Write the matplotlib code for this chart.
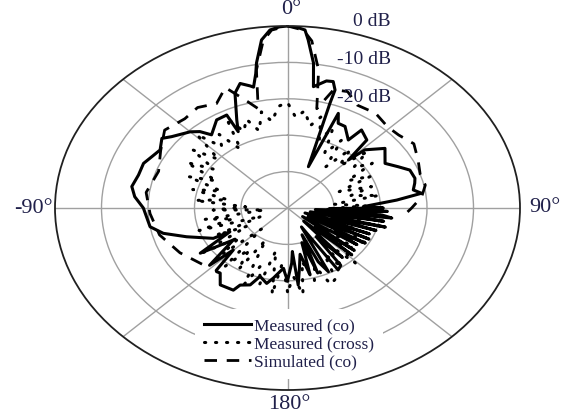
import numpy as np
import matplotlib
matplotlib.use("Agg")
import matplotlib.pyplot as plt

plt.rcParams['font.family'] = ['Liberation Serif', 'DejaVu Serif']

# ---------------- data (angle in degrees, level in dB) ----------------
co_ang = [-180, -176.9, -171, -167.8, -162.6, -159.2, -154.3, -152.7, -145.6, -141,
          -138.9, -138.2, -134.7, -133.2, -127, -123.5, -117.8, -117.6, -110, -104.6,
          -99.9, -90, -84.6, -80, -74.2, -68.4, -64.2, -59.8, -54.7, -51.8,
          -45, -41.9, -39.1, -32.2, -27.1, -26.8, -24.3, -19.7, -16.6, -13.5,
          -12.4, -10.5, -9.5, -6.9, -4.4, -2, 0, 2, 4.4, 5.5,
          8, 9.5, 13.5, 15.8, 17.5, 17.6, 21.6, 22.8, 25.1, 28.9,
          35, 36.6, 42.4, 44.8, 46.2, 52, 59.7, 64.6, 68.4, 73.4,
          76, 79.6, 82, 84.7, 88.7, 90, 91, 92.5, 94, 95.4,
          97, 98, 100, 102, 104, 106, 108, 110, 112, 114,
          116, 118, 120, 122, 124, 126, 129, 131, 133, 136,
          139, 142, 144, 147.4, 150, 153.3, 155.9, 157, 160, 162,
          165.2, 168, 171, 173.8, 175, 176.6, 180]
co_db = [-30, -33.4, -30.5, -28.8, -30.3, -27.4, -26.5, -24.6, -24.4, -27,
         -26.8, -27, -33.6, -27, -35.4, -27.5, -36, -32, -26.9, -22.4,
         -20, -19, -17, -16, -16.7, -16.7, -17.6, -18.3, -16.9, -18.3,
         -20.4, -21.8, -24.1, -21.4, -21.3, -26.5, -23.5, -16.5, -14.3, -15.5,
         -16, -12.5, -9.6, -3.5, -0.95, -0.2, 0, -0.2, -0.95, -3.6,
         -9.8, -16.2, -14.1, -13.9, -16, -19.8, -37.8, -21.8, -24.3, -24.4,
         -27.2, -23.3, -24.7, -31.4, -26.9, -23.4, -25.7, -23.6, -21.7, -21.4,
         -21.8, -22.5, -20.9, -26.4, -33.7, -29.4, -41, -28.5, -44, -29.6,
         -27.4, -43, -29, -45, -28.3, -40, -30, -46, -31, -42,
         -30.5, -45, -30.7, -38, -32, -46, -31.5, -42, -31.1, -45,
         -32, -40, -30.5, -29.8, -44, -30.4, -33.8, -42, -31, -40,
         -31, -37, -33.5, -28.7, -38, -34.8, -30]

cross_ang = list(range(-180, 181, 4))
cross_db = [-27, -35, -26, -38, -28, -33, -27, -40, -30, -36,
            -29, -42, -31, -37, -28, -40, -33, -44, -30, -38,
            -32, -45, -34, -41, -30, -37, -29, -35, -27, -33,
            -25, -31, -24, -30, -22, -28, -25, -31, -22, -27,
            -24, -28, -23, -26, -22, -21, -25, -23, -27, -24,
            -30, -26, -33, -28, -36, -29, -34, -27, -32, -28,
            -35, -30, -38, -31, -36, -30, -40, -33, -42, -32,
            -38, -31, -41, -33, -37, -30, -39, -32, -36, -29,
            -38, -30, -35, -28, -27, -33, -29, -35, -26, -31,
            -27]

sim_ang = [-130, -118, -105, -93, -82, -70, -60, -51, -42, -35,
           -28, -22, -17, -13, -10, -6.5, -4, 0, 4, 6.5,
           10, 13, 17, 22, 28, 36, 44, 50, 57, 65,
           72, 78, 84, 90, 95]
sim_db = [-26, -23.8, -21.5, -20.4, -19.3, -20.5, -18.5, -16, -17, -16.3,
          -17.5, -14.3, -19, -22, -11.5, -3.8, -1.0, 0, -1.0, -3.8,
          -11.5, -22, -16, -15.5, -18, -17.8, -19, -18.8, -17.6, -19,
          -20, -19.7, -21, -23.3, -25]

ring_levels = [-40, -30, -20, -10]
db_labels = ["0 dB", "-10 dB", "-20 dB"]
angle_labels = ["0°", "90°", "180°", "-90°"]
legend_labels = ["Measured (co)", "Measured (cross)", "Simulated (co)"]

# ---------------- figure ----------------
W, H = 566, 415
fig = plt.figure(figsize=(W / 100, H / 100), dpi=100)
ax = fig.add_axes([55 / W, 25 / H, 465 / W, 364 / H], projection='polar')
ax.set_aspect('auto')
ax.set_theta_zero_location('N')
ax.set_theta_direction(-1)
ax.set_rlim(-50, 0)

ax.set_rgrids(ring_levels, labels=[''] * len(ring_levels))
ax.set_thetagrids(np.arange(0, 360, 45), labels=[''] * 8)
ax.grid(True, color='#a0a0a0', linewidth=1.0)
ax.set_xticks(np.deg2rad(np.arange(22.5, 360, 45)), minor=True)
ax.tick_params(axis='x', which='both', direction='in', length=5, width=1, color='#202020')
ax.tick_params(axis='y', length=0)
ax.spines['polar'].set_color('#202020')
ax.spines['polar'].set_linewidth(1.3)
ax.spines['polar'].set_zorder(8)

txt = '#20204a'
l1, = ax.plot(np.deg2rad(co_ang), co_db, color='black', lw=2.2,
              solid_joinstyle='round', label=legend_labels[0])
l2, = ax.plot(np.deg2rad(cross_ang), cross_db, color='black', lw=2.2,
              linestyle=(0, (0.4, 3.2)), dash_capstyle='round', label=legend_labels[1])
l3, = ax.plot(np.deg2rad(sim_ang), sim_db, color='black', lw=2.0,
              linestyle=(0, (4.5, 3.5)), label=legend_labels[2])

# angle labels
fig.text(291 / W, 1 - 9 / H, angle_labels[0], ha='center', va='center', fontsize=16, color=txt)
fig.text(529 / W, 1 - 207 / H, angle_labels[1], ha='left', va='center', fontsize=16, color=txt)
fig.text(289 / W, 1 - 404 / H, angle_labels[2], ha='center', va='center', fontsize=16, color=txt)
fig.text(53 / W, 1 - 208 / H, angle_labels[3], ha='right', va='center', fontsize=16, color=txt)

# dB labels
for lab, yy in zip(db_labels, [22, 59, 98]):
    fig.text(391 / W, 1 - yy / H, lab, ha='right', va='center', fontsize=14, color=txt)

leg = ax.legend(handles=[l1, l2, l3], loc='center',
                bbox_to_anchor=(289 / W, 1 - 344 / H), bbox_transform=fig.transFigure,
                fontsize=12.5, frameon=True, fancybox=False, framealpha=1,
                facecolor='white', edgecolor='none', handlelength=2.7,
                handletextpad=0.2, labelspacing=0.1, borderpad=0.5)
leg.set_zorder(7)
for t in leg.get_texts():
    t.set_color(txt)

fig.savefig('out.png', dpi=100)
